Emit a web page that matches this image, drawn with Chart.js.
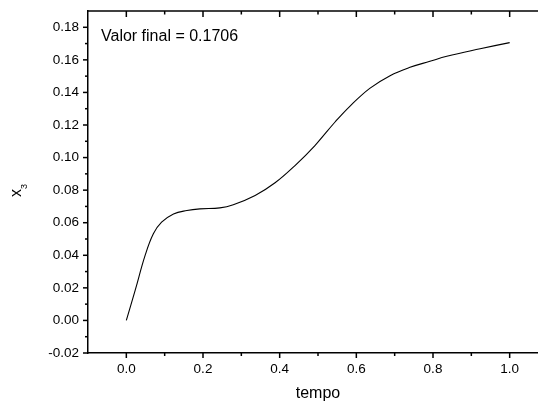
<!DOCTYPE html>
<html>
<head>
<meta charset="utf-8">
<script src="https://cdn.jsdelivr.net/npm/chart.js@4/dist/chart.umd.min.js"></script>
<style>
  html, body { margin: 0; padding: 0; background: #fff; overflow: hidden; }
  canvas { display: block; }
</style>
</head>
<body>
<canvas id="chart" width="560" height="406"></canvas>
<script>
// ============================================
// DATA
// ============================================

const TEMPO = [
  0.000, 0.023, 0.049, 0.0705, 0.092, 0.123, 0.158, 0.192, 0.244, 0.279,
  0.336, 0.388, 0.440, 0.492, 0.545, 0.583, 0.635, 0.688, 0.740, 0.792,
  0.836, 0.923, 1.000,
];
const X3 = [
  0.0000, 0.0184, 0.0399, 0.0532, 0.0603, 0.0654, 0.0675, 0.0685, 0.0691, 0.0710,
  0.0767, 0.0845, 0.0951, 0.1074, 0.1220, 0.1315, 0.1425, 0.1503, 0.1554, 0.1591,
  0.1622, 0.1668, 0.1706,
];

const X_TICKS = [0.0, 0.2, 0.4, 0.6, 0.8, 1.0];
const X_MINOR = [0.1, 0.3, 0.5, 0.7, 0.9];
const Y_TICKS = [-0.02, 0.0, 0.02, 0.04, 0.06, 0.08, 0.1, 0.12, 0.14, 0.16, 0.18];
const Y_MINOR = [-0.01, 0.01, 0.03, 0.05, 0.07, 0.09, 0.11, 0.13, 0.15, 0.17];

const FINAL_LABEL = 'Valor final = 0.1706';
const FONT = '"Liberation Sans", Arial, sans-serif';

// ============================================
// AXIS DECORATION (ticks, top frame, labels)
// ============================================

const axisDecor = {
  id: 'axisDecor',
  afterDraw(chart) {
    const ctx = chart.ctx;
    const area = chart.chartArea;
    const xs = chart.scales.x;
    const ys = chart.scales.y;

    ctx.save();
    ctx.strokeStyle = '#000';
    ctx.lineWidth = 1.5;

    // top frame line
    ctx.beginPath();
    ctx.moveTo(area.left, area.top);
    ctx.lineTo(area.right, area.top);
    ctx.stroke();

    const tick = (x1, y1, x2, y2) => {
      ctx.beginPath();
      ctx.moveTo(x1, y1);
      ctx.lineTo(x2, y2);
      ctx.stroke();
    };

    X_TICKS.forEach((v) => {
      const px = xs.getPixelForValue(v);
      tick(px, area.bottom, px, area.bottom + 5);
      tick(px, area.top, px, area.top + 6);
    });
    X_MINOR.forEach((v) => {
      const px = xs.getPixelForValue(v);
      tick(px, area.bottom, px, area.bottom + 3);
      tick(px, area.top, px, area.top + 3.5);
    });
    Y_TICKS.forEach((v) => {
      const py = ys.getPixelForValue(v);
      tick(area.left, py, area.left - 5, py);
    });
    Y_MINOR.forEach((v) => {
      const py = ys.getPixelForValue(v);
      tick(area.left, py, area.left - 3, py);
    });

    // annotation
    ctx.fillStyle = '#000';
    ctx.font = '16px ' + FONT;
    ctx.textAlign = 'left';
    ctx.textBaseline = 'middle';
    ctx.fillText(FINAL_LABEL, area.left + 13, area.top + 26);

    // y axis title: x with subscript 3
    ctx.translate(20.7, 193);
    ctx.rotate(-Math.PI / 2);
    ctx.textBaseline = 'alphabetic';
    ctx.textAlign = 'center';
    ctx.font = '16px ' + FONT;
    ctx.fillText('x', 0, 0);
    ctx.textAlign = 'left';
    ctx.font = '9px ' + FONT;
    ctx.fillText('3', 4, 6.5);

    ctx.restore();
  },
};

// ============================================
// CHART
// ============================================

const points = TEMPO.map((t, i) => ({ x: t, y: X3[i] }));

new Chart(document.getElementById('chart').getContext('2d'), {
  type: 'line',
  data: {
    datasets: [
      {
        data: points,
        borderColor: '#000',
        borderWidth: 1.1,
        pointRadius: 0,
        fill: false,
        tension: 0.4,
      },
    ],
  },
  options: {
    responsive: false,
    animation: false,
    layout: { padding: { top: 11, right: 12, left: 0, bottom: 0 } },
    plugins: {
      legend: { display: false },
      tooltip: { enabled: false },
    },
    scales: {
      x: {
        type: 'linear',
        min: -0.1,
        max: 1.1,
        afterBuildTicks: (axis) => {
          axis.ticks = X_TICKS.map((v) => ({ value: v }));
        },
        afterFit: (axis) => {
          axis.height = 53;
          axis.paddingLeft = 0;
          axis.paddingRight = 0;
        },
        grid: { display: false, drawTicks: false },
        border: { display: true, color: '#000', width: 1.5 },
        ticks: {
          padding: 8,
          color: '#000',
          font: { family: FONT, size: 13.5 },
          maxRotation: 0,
          autoSkip: false,
          callback: (v) => Number(v).toFixed(1),
        },
        title: {
          display: true,
          text: 'tempo',
          color: '#000',
          font: { family: FONT, size: 16 },
          padding: { top: 0, bottom: 3 },
        },
      },
      y: {
        type: 'linear',
        min: -0.02,
        max: 0.19,
        afterBuildTicks: (axis) => {
          axis.ticks = Y_TICKS.map((v) => ({ value: v }));
        },
        afterFit: (axis) => {
          axis.width = 88;
          axis.paddingTop = 0;
          axis.paddingBottom = 0;
        },
        grid: { display: false, drawTicks: false },
        border: { display: true, color: '#000', width: 1.5 },
        ticks: {
          padding: 9,
          color: '#000',
          font: { family: FONT, size: 13.5 },
          autoSkip: false,
          callback: (v) => Number(v).toFixed(2),
        },
        title: { display: false },
      },
    },
  },
  plugins: [axisDecor],
});
</script>
</body>
</html>
